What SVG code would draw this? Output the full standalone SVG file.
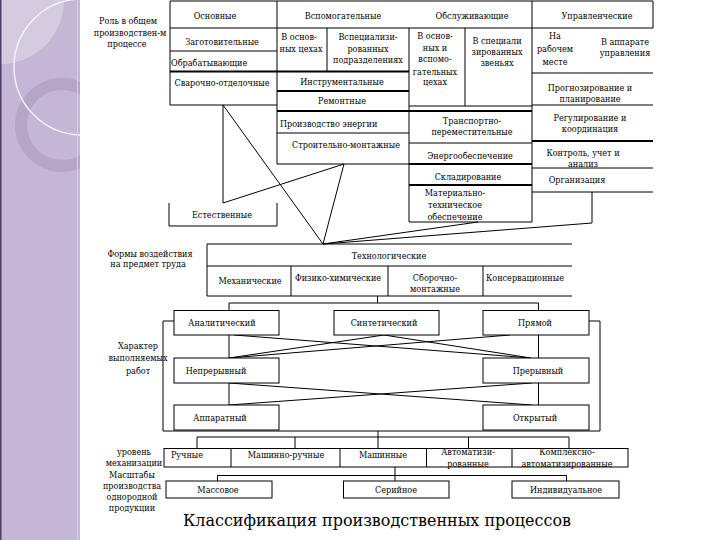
<svg xmlns="http://www.w3.org/2000/svg" width="720" height="540" viewBox="0 0 720 540">
<style>
text{font-family:"DejaVu Serif",serif;font-stretch:condensed}
.t{font-size:9px;fill:#000}
.c{text-anchor:middle}
.l{stroke:#000;stroke-width:1;fill:none}
.k{stroke:#000;stroke-width:2;fill:none}
.b{fill:#fff;stroke:#000;stroke-width:1}
</style>
<defs>
<clipPath id="strip"><rect x="0" y="0" width="80" height="540"/></clipPath>
</defs>
<rect width="720" height="540" fill="#fff"/>
<g id="decor" clip-path="url(#strip)">
<rect x="0" y="0" width="80" height="540" fill="#c4b7d5"/>
<path d="M64,0 A64,64 0 0 1 0,64 L0,0 Z" fill="#d5cbe1"/>
<circle cx="62" cy="125" r="41" fill="none" stroke="#b5a6c8" stroke-width="12"/>
<circle cx="82" cy="67" r="68" fill="none" stroke="#f4f0f8" stroke-width="1.5"/>
<rect x="0" y="0" width="1.5" height="540" fill="#4e3f6e"/>
<line x1="77.5" y1="0" x2="77.5" y2="540" stroke="#d8cfe3" stroke-width="1"/>
</g>
<g id="grid">
<path class="l" d="M170,1H653M170,28H653M170,1V105M277,1V164M532,1V222M653,1V28M170,51H277M170,105H277M327,28V71M409,28V222M465,28V106M409,106H532M277,133H409M277,164H409M409,143H532M409,222H532M532,73H653M532,105H653M532,168H653M532,192H653"/>
<path class="k" d="M170,71.5H409M277,91H409M277,111H532M409,164H532M409,185H532M532,141H653"/>
<path class="l" d="M169,203V226H277V203"/>
<path class="l" d="M207,244H572M207,266H572M207,296H572M207,244V296M291,266V296M388,266V296M483,266V296"/>
<path class="l" d="M174,321H163V431H600V321H589"/>
<rect class="b" x="164" y="448.5" width="464" height="18.5"/>
<path class="l" d="M231,448.5V467M340,448.5V467M426.5,448.5V467M512,448.5V467"/>
</g>
<g id="connectors" class="l">
<path d="M223,105L323,244"/>
<path d="M223,105V203L344,164L323,244"/>
<path d="M592,192V223L323,244"/>
<path d="M478,222L323,244"/>
<path d="M377.5,296V303M229,303H538.5M229,303V310.5M538.5,303V310.5"/>
<path d="M229,335V358M229,383V405M538.5,335V358M538.5,383V405"/>
<path d="M234,335L531,358M384,335L531,358M384,335L229,358M510,335L229,358M229,383L532,405M532,383L229,405"/>
<path d="M378,431V448.5M197,437H569M197,437V448.5M295,437V448.5M468.5,437V448.5M569,437V448.5"/>
<path d="M395,467V475.5M217.5,475.5H566.5M217.5,475.5V481M395,475.5V481M566.5,475.5V481"/>
</g>
<g id="label-role" class="t c"><text x="128" y="23.5">Роль в общем</text><text x="130" y="35.5">производствен-м</text><text x="127" y="46.5">процессе</text></g>
<g id="osnovnye" class="t c"><text x="215" y="18.5">Основные</text></g>
<g id="vspomogatelnye" class="t c"><text x="343" y="18.5">Вспомогательные</text></g>
<g id="obsluzhivayushchie" class="t c"><text x="472" y="18.5">Обслуживающие</text></g>
<g id="upravlencheskie" class="t c"><text x="597" y="18.5">Управленческие</text></g>
<g id="zagotovitelnye" class="t c"><text x="222" y="44.5">Заготовительные</text></g>
<g id="obrabatyvayushchie" class="t"><text x="171" y="65.5">Обрабатывающие</text></g>
<g id="svarochno" class="t c"><text x="222" y="85.5">Сварочно-отделочные</text></g>
<g id="vsp-osn-cekh" class="t c"><text x="299" y="39.5">В основ-</text><text x="301" y="51.5">ных цехах</text></g>
<g id="vsp-spec" class="t c"><text x="368" y="39.5">Вспециализи-</text><text x="368" y="51.5">рованных</text><text x="368" y="62.5">подразделениях</text></g>
<g id="obs-osn" class="t c"><text x="435" y="38.5">В основ-</text><text x="435" y="50.5">ных и</text><text x="435" y="61.5">вспомо-</text><text x="435" y="74.5">гательных</text><text x="435" y="84.5">цехах</text></g>
<g id="obs-spec" class="t c"><text x="497" y="43.5">В специали</text><text x="497" y="55">зированных</text><text x="497" y="65.5">звеньях</text></g>
<g id="na-rab" class="t c"><text x="555" y="38.5">На</text><text x="555" y="51.5">рабочем</text><text x="555" y="64.5">месте</text></g>
<g id="v-apparate" class="t c"><text x="625" y="44.5">В аппарате</text><text x="625" y="55.5">управления</text></g>
<g id="instrumentalnye" class="t c"><text x="342" y="84.5">Инструментальные</text></g>
<g id="remontnye" class="t c"><text x="342" y="103.5">Ремонтные</text></g>
<g id="prognoz" class="t c"><text x="590" y="90.5">Прогнозирование и</text><text x="590" y="101.5">планирование</text></g>
<g id="proizv-energii" class="t"><text x="280" y="126.5">Производство энергии</text></g>
<g id="transport" class="t c"><text x="472" y="123.5">Транспортно-</text><text x="472" y="134.5">переместительные</text></g>
<g id="regulir" class="t c"><text x="590" y="120.5">Регулирование и</text><text x="590" y="131.5">координация</text></g>
<g id="stroit" class="t c"><text x="346" y="147.5">Строительно-монтажные</text></g>
<g id="energo" class="t c"><text x="470" y="158.5">Энергообеспечение</text></g>
<g id="kontrol" class="t c"><text x="583" y="155.5">Контроль, учет и</text><text x="583" y="166.5">анализ</text></g>
<g id="sklad" class="t c"><text x="468" y="179.5">Складирование</text></g>
<g id="organiz" class="t c"><text x="577" y="182.5">Организация</text></g>
<g id="mto" class="t c"><text x="455" y="195.5">Материально-</text><text x="455" y="207.5">техническое</text><text x="455" y="219.5">обеспечение</text></g>
<g id="estestvennye" class="t c"><text x="222" y="217.5">Естественные</text></g>
<g id="label-formy" class="t c"><text x="150" y="256.5">Формы воздействия</text><text x="148" y="266.5">на предмет труда</text></g>
<g id="tekhnolog" class="t c"><text x="389" y="258.5">Технологические</text></g>
<g id="mekhan" class="t c"><text x="250" y="283.5">Механические</text></g>
<g id="fiz-khim" class="t c"><text x="338" y="280.5">Физико-химические</text></g>
<g id="sbor" class="t c"><text x="435" y="280.5">Сборочно-</text><text x="435" y="291.5">монтажные</text></g>
<g id="konserv" class="t c"><text x="525" y="280.5">Консервационные</text></g>
<g id="analit"><rect class="b" x="174" y="310.5" width="105" height="24.5"/><text class="t c" x="222" y="325.5">Аналитический</text></g>
<g id="sintet"><rect class="b" x="334" y="310.5" width="105" height="24.5"/><text class="t c" x="384" y="325.5">Синтетический</text></g>
<g id="pryamoy"><rect class="b" x="483" y="310.5" width="106" height="24.5"/><text class="t c" x="535" y="325.5">Прямой</text></g>
<g id="label-kharakter" class="t c"><text x="138" y="349">Характер</text><text x="138" y="361">выполняемых</text><text x="138" y="373.5">работ</text></g>
<g id="nepreryv"><rect class="b" x="174" y="358" width="105" height="25"/><text class="t c" x="216" y="373.5">Непрерывный</text></g>
<g id="preryv"><rect class="b" x="483" y="358" width="106" height="25"/><text class="t c" x="538" y="373.5">Прерывный</text></g>
<g id="apparat"><rect class="b" x="174" y="405" width="105" height="25"/><text class="t c" x="220" y="420.5">Аппаратный</text></g>
<g id="otkryt"><rect class="b" x="483" y="405" width="106" height="25"/><text class="t c" x="535" y="420.5">Открытый</text></g>
<g id="label-uroven" class="t c"><text x="134" y="454.5">уровень</text><text x="134" y="466">механизации</text></g>
<g id="ruchnye" class="t c"><text x="187" y="458">Ручные</text></g>
<g id="mash-ruch" class="t c"><text x="286" y="458">Машинно-ручные</text></g>
<g id="mashinnye" class="t c"><text x="383" y="458">Машинные</text></g>
<g id="avtomat" class="t c"><text x="468" y="454.5">Автоматизи-</text><text x="468" y="466.5">рованные</text></g>
<g id="kompleks" class="t c"><text x="567" y="454.5">Комплексно-</text><text x="567" y="466.5">автоматизированные</text></g>
<g id="label-masshtab" class="t c"><text x="132" y="477.5">Масштабы</text><text x="132" y="489">производства</text><text x="132" y="500">однородной</text><text x="132" y="511">продукции</text></g>
<g id="massovoe"><rect class="b" x="166" y="481" width="106" height="17"/><text class="t c" x="218" y="493">Массовое</text></g>
<g id="seriynoe"><rect class="b" x="343.5" y="481" width="105.5" height="17"/><text class="t c" x="396" y="493">Серийное</text></g>
<g id="individ"><rect class="b" x="512" y="481" width="107" height="17"/><text class="t c" x="566" y="493">Индивидуальное</text></g>
<g id="title"><text x="377" y="526" text-anchor="middle" font-size="17" textLength="388" lengthAdjust="spacingAndGlyphs" fill="#000">Классификация производственных процессов</text></g>
</svg>
